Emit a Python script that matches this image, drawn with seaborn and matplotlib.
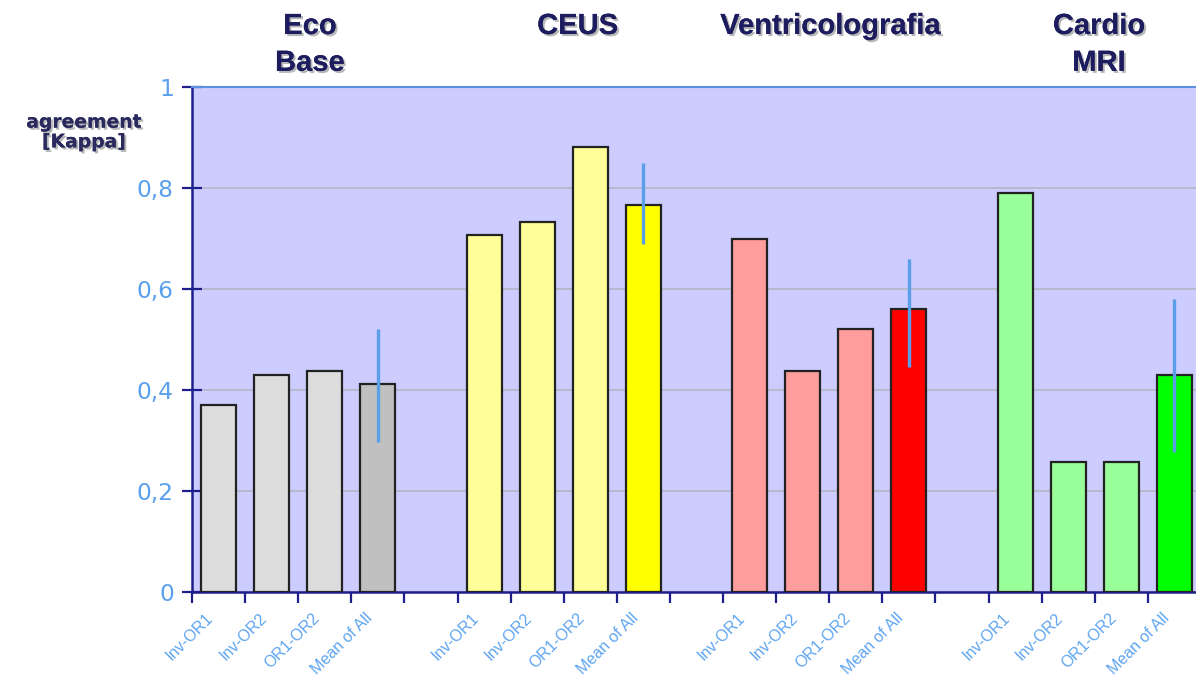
import numpy as np
import pandas as pd
import matplotlib
matplotlib.use("Agg")
import matplotlib.pyplot as plt
import matplotlib.patheffects as pe
import seaborn as sns

# valori
gruppi = ["Eco\nBase", "CEUS", "Ventricolografia", "Cardio\nMRI"]
confronti = ["Inv-OR1", "Inv-OR2", "OR1-OR2", "Mean of All"]
kappa_eco = [0.37, 0.43, 0.437, 0.412]
kappa_ceus = [0.707, 0.733, 0.881, 0.766]
kappa_ventr = [0.699, 0.438, 0.521, 0.560]
kappa_mri = [0.790, 0.257, 0.257, 0.430]
err_low = [0.297, 0.689, 0.446, 0.277]
err_high = [0.521, 0.850, 0.659, 0.580]
yticks = [0, 0.2, 0.4, 0.6, 0.8, 1]
ytick_labels = ["0", "0,2", "0,4", "0,6", "0,8", "1"]

col_chiaro = ["#DCDCDC", "#FFFF99", "#FF9C9C", "#99FF99"]
col_media = ["#C0C0C0", "#FFFF00", "#FF0000", "#00FF00"]
title_x = [1.72, 6.76, 11.52, 16.58]

rows = []
palette = {}
for g, vals in enumerate([kappa_eco, kappa_ceus, kappa_ventr, kappa_mri]):
    for i, v in enumerate(vals):
        key = f"{g}-{i}"
        rows.append({"pos": g * 5 + i, "kappa": v, "key": key, "label": confronti[i]})
        palette[key] = col_media[g] if i == 3 else col_chiaro[g]
df = pd.DataFrame(rows)

sns.set_theme(style="white")
plt.rcParams["font.family"] = ["Liberation Sans", "DejaVu Sans"]

fig = plt.figure(figsize=(11.96, 6.78), dpi=100)
ax = fig.add_axes([192 / 1196, 86 / 678, 1009 / 1196, 505 / 678])
ax.set_facecolor("#CCCCFF")

sns.barplot(data=df, x="pos", y="kappa", hue="key", palette=palette, dodge=False,
            native_scale=True, width=0.66, saturation=1, edgecolor="#222222",
            linewidth=1.6, legend=False, ax=ax, zorder=3)

# barre di errore sulle medie
mean_pos = [g * 5 + 3 for g in range(4)]
ax.vlines(mean_pos, err_low, err_high, color="#5B9EE8", lw=2.4, zorder=4)

ax.set_xlim(-0.5, 18.5)
ax.set_ylim(0, 1)
ax.set_yticks(yticks)
ax.set_yticklabels(ytick_labels, color="#5BA0EC", fontsize=16.8, family=["DejaVu Sans"])
ax.yaxis.grid(True, color="#B5B5C5", lw=1.2, zorder=0)
ax.set_axisbelow(True)

# tick sui confini delle categorie, etichette (ruotate) un po' a sinistra del centro
ax.set_xticks(np.arange(-0.5, 19, 1))
ax.set_xticklabels([])
ax.set_xticks(df["pos"] - 0.245, minor=True)
ax.set_xticklabels(df["label"], minor=True, rotation=45, ha="right", va="top",
                   rotation_mode="anchor", color="#5FA5F0", fontsize=11.5)
ax.tick_params(axis="x", which="major", bottom=True, direction="out", length=8,
               width=1.6, color="#1E1E8C")
ax.tick_params(axis="x", which="minor", bottom=True, length=0, pad=13)
ax.tick_params(axis="y", left=True, direction="inout", length=14, width=1.6,
               color="#1E1E8C", pad=6)
ax.set_xlabel("")
ax.set_ylabel("")

for s in ["left", "bottom"]:
    ax.spines[s].set_color("#1E1E8C")
    ax.spines[s].set_linewidth(1.8)
ax.spines["top"].set_color("#5B8FE0")
ax.spines["top"].set_linewidth(1.5)
ax.spines["right"].set_visible(False)

shadow = [pe.withSimplePatchShadow(offset=(1.5, -1.5), shadow_rgbFace="#888888", alpha=0.6), pe.Normal()]
for x, g in zip(title_x, gruppi):
    ax.text(x, 1 + 75 / 505, g, transform=ax.get_xaxis_transform(), ha="center", va="top",
            fontsize=21, fontweight="bold", color="#1C1C5E", linespacing=1.4,
            path_effects=shadow)

fig.text(84 / 1196, 1 - 132 / 678, "agreement\n[Kappa]", ha="center", va="center",
         fontsize=13.5, fontweight="bold", color="#2A2A5E", linespacing=1.05,
         family=["DejaVu Sans"], path_effects=shadow)

fig.savefig("out.png", dpi=100)
